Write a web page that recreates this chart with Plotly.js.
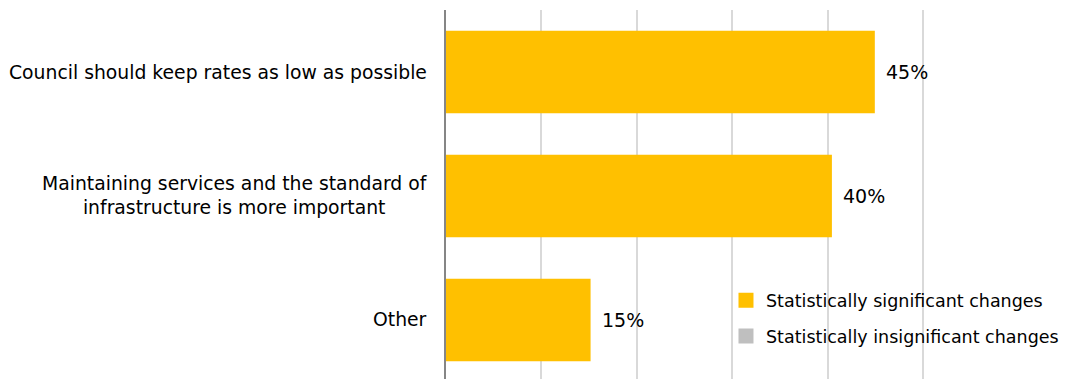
<!DOCTYPE html>
<html>
<head>
<meta charset="utf-8">
<script src="https://cdn.plot.ly/plotly-3.0.1.min.js"></script>
<style>html,body{margin:0;padding:0;background:#fff;}#chart{width:1076px;height:379px;}</style>
</head>
<body>
<div id="chart"></div>
<script>
const categories = [
  "Council should keep rates as low as possible",
  "Maintaining services and the standard of<br>infrastructure is more important",
  "Other"
];
const values = [44.8, 40.3, 15.0];
const valueLabels = ["45%", "40%", "15%"];
const seriesNames = ["Statistically significant changes", "Statistically insignificant changes"];

const FONT = "DejaVu Sans, Verdana, sans-serif";
const yIdx = categories.map((c, i) => i);

const traces = [
  {
    type: "bar", orientation: "h",
    x: values, y: yIdx,
    name: seriesNames[0],
    marker: {color: "#FFC000", line: {color: "#FFC000", width: 3}},
    width: 0.64,
    legendgroup: "a",
    hoverinfo: "none"
  },
  {
    type: "bar", orientation: "h",
    x: [null, null, null], y: yIdx,
    name: seriesNames[1],
    marker: {color: "#BFBFBF", line: {color: "#BFBFBF", width: 3}},
    width: 0.64,
    legendgroup: "b",
    hoverinfo: "none"
  }
];

const annotations = [];
categories.forEach((c, i) => {
  annotations.push({
    x: 0, y: i, xref: "x", yref: "y", text: c,
    xanchor: "right", yanchor: "middle", align: "center",
    xshift: -17, showarrow: false,
    font: {family: FONT, size: 18.8, color: "#000"}
  });
  annotations.push({
    x: values[i], y: i, xref: "x", yref: "y", text: valueLabels[i],
    xanchor: "left", yanchor: "middle",
    xshift: 11, showarrow: false,
    font: {family: FONT, size: 19, color: "#000"}
  });
});

const layout = {
  width: 1076, height: 379,
  margin: {l: 446, r: 134, t: 10, b: 0, pad: 0},
  paper_bgcolor: "#fff", plot_bgcolor: "#fff",
  barmode: "overlay",
  showlegend: true,
  legend: {
    x: 0.5645, y: 0.262, xanchor: "left", yanchor: "top",
    bgcolor: "rgba(0,0,0,0)",
    font: {family: FONT, size: 17.5, color: "#000"},
    traceorder: "grouped", tracegroupgap: 10,
    itemwidth: 30
  },
  xaxis: {
    range: [0, 52], dtick: 10, tick0: 0,
    showgrid: true, gridcolor: "#D9D9D9", gridwidth: 2,
    zeroline: false, showticklabels: false, ticks: "",
    showline: false, fixedrange: true
  },
  yaxis: {
    range: [2.476, -0.5],
    showgrid: false, zeroline: false,
    showticklabels: false, ticks: "",
    showline: true, linecolor: "#868686", linewidth: 2,
    fixedrange: true
  },
  annotations: annotations,
  font: {family: FONT, color: "#000"}
};

Plotly.newPlot("chart", traces, layout, {displayModeBar: false, staticPlot: true});
</script>
</body>
</html>
